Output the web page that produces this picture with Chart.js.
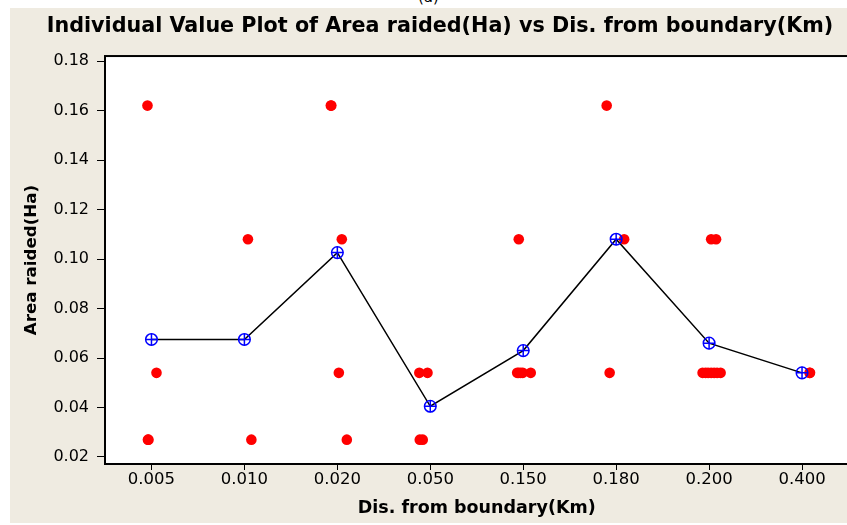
<!DOCTYPE html>
<html>
<head>
<meta charset="utf-8">
<script src="https://cdn.jsdelivr.net/npm/chart.js@4/dist/chart.umd.min.js"></script>
<style>
  html, body { margin: 0; padding: 0; background: #fff; overflow: hidden; }
  #panel { position: absolute; left: 10px; top: 8px; width: 846px; height: 515px; background: #efebe1; }
  #cut { position: absolute; left: 418px; top: -12px; font: 15px "DejaVu Sans", sans-serif; color: #000; }
</style>
</head>
<body>
<div id="cut">(a)</div>
<div id="panel"><canvas id="c" width="846" height="515"></canvas></div>
<script>
// categories on the x axis (Dis. from boundary, Km)
const categories = ['0.005', '0.010', '0.020', '0.050', '0.150', '0.180', '0.200', '0.400'];

// individual observations of Area raided (Ha), one list per category
const obs005 = [0.162, 0.054, 0.027, 0.027];
const obs010 = [0.108, 0.027];
const obs020 = [0.162, 0.162, 0.108, 0.054, 0.027];
const obs050 = [0.054, 0.054, 0.027, 0.027];
const obs150 = [0.108, 0.054, 0.054, 0.054, 0.054, 0.054];
const obs180 = [0.162, 0.108, 0.054];
const obs200 = [0.108, 0.108, 0.054, 0.054, 0.054, 0.054, 0.054, 0.054, 0.054];
const obs400 = [0.054, 0.054];
const observations = [obs005, obs010, obs020, obs050, obs150, obs180, obs200, obs400];

// category means (blue markers)
const means = [0.0675, 0.0675, 0.1026, 0.0405, 0.063, 0.108, 0.066, 0.054];

// y tick labels
const yTicks = [0.02, 0.04, 0.06, 0.08, 0.10, 0.12, 0.14, 0.16, 0.18];

// horizontal jitter of each dot, in category widths (same order as observations)
const jitter = [
  [-0.043, 0.054, -0.038, -0.032],
  [0.038, 0.075],
  [-0.07, -0.065, 0.048, 0.016, 0.102],
  [-0.118, -0.03, -0.113, -0.081],
  [-0.048, -0.065, -0.048, -0.027, -0.005, 0.081],
  [-0.102, 0.086, -0.07],
  [0.022, 0.075, -0.07, -0.038, -0.011, 0.022, 0.054, 0.086, 0.124],
  [0.081, 0.086]
];

const dots = [];
observations.forEach((list, i) => {
  list.forEach((v, j) => dots.push({ x: i + jitter[i][j], y: v }));
});
const meanPts = means.map((m, i) => ({ x: i, y: m }));

const framePlugin = {
  id: 'frame',
  beforeDraw(chart) {
    const { ctx, chartArea: a } = chart;
    ctx.save();
    ctx.fillStyle = '#ffffff';
    ctx.fillRect(a.left, a.top, a.right - a.left, a.bottom - a.top);
    ctx.restore();
  },
  beforeDatasetsDraw(chart) {
    const { ctx, chartArea: a } = chart;
    ctx.save();
    ctx.strokeStyle = '#000';
    ctx.lineWidth = 2;
    ctx.strokeRect(a.left, a.top, a.right - a.left, a.bottom - a.top);
    ctx.restore();
  }
};

new Chart(document.getElementById('c'), {
  type: 'scatter',
  data: {
    datasets: [
      {
        data: meanPts,
        showLine: true,
        borderColor: '#000',
        borderWidth: 1.5,
        pointStyle: 'circle',
        pointRadius: 5.8,
        pointBorderColor: '#0000ff',
        pointBackgroundColor: 'rgba(0,0,0,0)',
        pointBorderWidth: 1.5,
        order: 1
      },
      {
        data: meanPts,
        showLine: false,
        pointStyle: 'cross',
        pointRadius: 6,
        pointBorderColor: '#0000ff',
        pointBorderWidth: 1.5,
        order: 0
      },
      {
        data: dots,
        pointStyle: 'circle',
        pointRadius: 5.3,
        pointBackgroundColor: '#ff0000',
        pointBorderWidth: 0,
        order: 2
      }
    ]
  },
  options: {
    responsive: false,
    animation: false,
    layout: { padding: { left: 16, right: 2, top: 0, bottom: 0 } },
    plugins: {
      legend: { display: false },
      tooltip: { enabled: false },
      title: {
        display: true,
        text: 'Individual Value Plot of Area raided(Ha) vs Dis. from boundary(Km)',
        color: '#000',
        font: { family: 'DejaVu Sans', size: 20.7, weight: 'bold', lineHeight: 1.2 },
        padding: { top: 6.6, bottom: 16.6 }
      }
    },
    scales: {
      x: {
        type: 'linear',
        min: -0.5,
        max: 7.5,
        afterBuildTicks: s => { s.ticks = categories.map((c, i) => ({ value: i })); },
        afterFit: s => { s.height = 59; },
        ticks: {
          color: '#000',
          padding: 0,
          font: { family: 'DejaVu Sans', size: 16.5 },
          callback: v => categories[v]
        },
        grid: { drawOnChartArea: false, drawTicks: true, tickLength: 6, color: '#000' },
        border: { display: false },
        title: {
          display: true,
          text: 'Dis. from boundary(Km)',
          color: '#000',
          font: { family: 'DejaVu Sans', size: 17.5, weight: 'bold', lineHeight: 1.2 },
          padding: { top: 0, bottom: 4.5 }
        }
      },
      y: {
        min: 0.01717,
        max: 0.18202,
        afterBuildTicks: s => { s.ticks = yTicks.map(v => ({ value: v })); },
        afterFit: s => { s.width = 79; },
        ticks: {
          color: '#000',
          padding: 8,
          font: { family: 'DejaVu Sans', size: 16 },
          callback: v => v.toFixed(2)
        },
        grid: { drawOnChartArea: false, drawTicks: true, tickLength: 8, color: '#000' },
        border: { display: false },
        title: {
          display: true,
          text: 'Area raided(Ha)',
          color: '#000',
          font: { family: 'DejaVu Sans', size: 16.7, weight: 'bold', lineHeight: 1.2 },
          padding: { top: -4, bottom: 0 }
        }
      }
    }
  },
  plugins: [framePlugin]
});
</script>
</body>
</html>
